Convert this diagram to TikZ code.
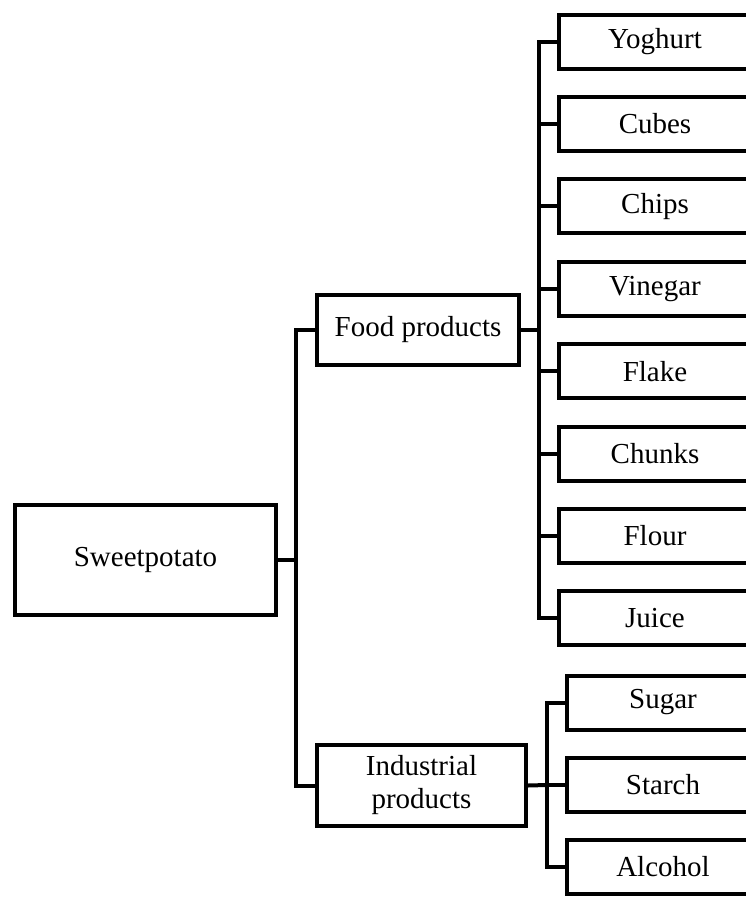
\documentclass[tikz,border=0pt]{standalone}
\usepackage{fontspec}
\setmainfont{Liberation Serif}
\begin{document}
\begin{tikzpicture}[x=1pt,y=-1pt,
  box/.style={draw=black,line width=4pt,rectangle,inner sep=0pt,align=center,
    font=\fontsize{29}{33}\selectfont,fill=white},
  leaf/.style={box,minimum width=192pt,minimum height=54pt},
  conn/.style={draw=black,line width=4pt,line join=miter}]
\useasboundingbox[fill=white] (0,0) rectangle (746,897);

\node[box,minimum width=261pt,minimum height=110pt] (sp) at (145.5,560) {Sweetpotato};
\node[box,minimum width=202pt,minimum height=70pt] (food) at (418,330) {Food products};
\node[box,minimum width=209pt,minimum height=81pt] (ind) at (421.5,785.5) {Industrial\\products};

\foreach \n/\t [count=\i from 0] in {y/Yoghurt,cu/Cubes,ch/Chips,v/Vinegar,fl/Flake,ck/Chunks,fo/Flour,j/Juice}{
  \node[leaf,anchor=west] (\n) at (557,{41.5+82.4*\i}) {\t};
}
\node[leaf,anchor=west] (su) at (565,702.5) {Sugar};
\node[leaf,anchor=west] (st) at (565,785) {Starch};
\node[leaf,anchor=west] (al) at (565,867) {Alcohol};

\coordinate (j1) at (296,560);
\coordinate (j2) at (539,330);
\coordinate (j3) at (547,785);

\draw[conn] (sp.east) -- (j1);
\draw[conn] (food.west) -| (j1);
\draw[conn] (ind.west) -| (j1);

\draw[conn] (food.east) -- (j2);
\foreach \n in {y,cu,ch,v,fl,ck,fo,j}{
  \draw[conn] (\n.west) -| (j2);
}

\draw[conn] (ind.east) -- (j3);
\foreach \n in {su,st,al}{
  \draw[conn] (\n.west) -| (j3);
}
\end{tikzpicture}
\end{document}
